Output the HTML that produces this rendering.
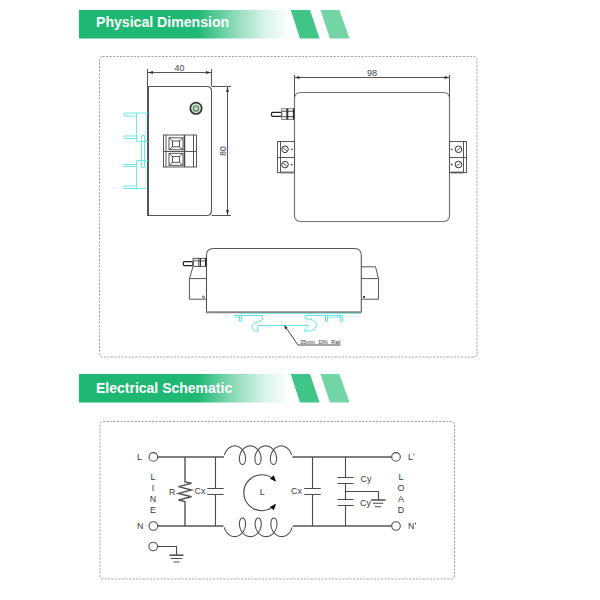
<!DOCTYPE html>
<html><head><meta charset="utf-8">
<style>
html,body{margin:0;padding:0;background:#fff;width:600px;height:600px;overflow:hidden}
svg{display:block;font-family:"Liberation Sans",sans-serif}
</style></head>
<body>
<svg width="600" height="600" viewBox="0 0 600 600">
<defs>
<linearGradient id="bg" x1="79" y1="0" x2="290" y2="0" gradientUnits="userSpaceOnUse">
<stop offset="0" stop-color="#1eb874"/>
<stop offset="0.56" stop-color="#1eb874"/>
<stop offset="0.74" stop-color="#1eb874" stop-opacity="0.5"/>
<stop offset="0.88" stop-color="#1eb874" stop-opacity="0.17"/>
<stop offset="1" stop-color="#1eb874" stop-opacity="0"/>
</linearGradient>
</defs>

<!-- ===== Banner 1 ===== -->
<rect x="79" y="10" width="211" height="28.5" fill="url(#bg)"/>
<polygon points="290.7,10 310,10 319.6,38.5 300,38.5" fill="#40c487"/>
<polygon points="320.4,10 339.3,10 349.6,38.5 330,38.5" fill="#73d4a5"/>
<text x="96" y="27.4" font-size="14.1" font-weight="bold" fill="#fff">Physical Dimension</text>

<!-- ===== Box 1 ===== -->
<rect x="99.5" y="56.5" width="377.5" height="300.5" rx="3" fill="none" stroke="#a3a3a3" stroke-width="1" stroke-dasharray="2.2 1.3"/>

<!-- side view -->
<g fill="none" stroke="#555" stroke-width="1">
  <!-- dim 40 -->
  <path d="M147.5,69 V86 M211.5,69 V86 M147.5,72.5 H211.5"/>
  <!-- box -->
  <path d="M147.5,86.5 H207 Q211.5,86.5 211.5,91 V210.5 Q211.5,215.5 206.5,215.5 H147.5" stroke="#555" stroke-width="1.1"/>
  <path d="M148,86 V216" stroke="#555" stroke-width="2"/>
  <path d="M211.5,86.5 H231 M211.5,215.5 H231"/>
  <path d="M227.5,87 V215"/>
</g>
<polygon points="227.5,87 226,92 229,92" fill="#333"/>
<polygon points="227.5,215 226,210 229,210" fill="#333"/>
<polygon points="148,72.5 153,71.1 153,73.9" fill="#333"/>
<polygon points="211,72.5 206,71.1 206,73.9" fill="#333"/>
<text x="179.5" y="70.8" font-size="8.8" text-anchor="middle" fill="#444">40</text>
<text transform="translate(226.3,151) rotate(-90)" font-size="8.5" text-anchor="middle" fill="#444">80</text>

<!-- LED -->
<circle cx="196" cy="108.3" r="5.7" fill="#d5e8d5" stroke="#303030" stroke-width="1.7"/>
<circle cx="196" cy="108.5" r="2.7" fill="#b9d2b9" stroke="#5c7d5e" stroke-width="1.1"/>

<!-- terminal block side -->
<g fill="none" stroke="#444" stroke-width="0.9">
  <rect x="163.5" y="135" width="33" height="32"/>
  <path d="M166,135 V167 M193.5,135 V167 M163.5,151.5 H196.5"/>
  <path d="M184.5,135 V167" stroke-width="1.5"/>
  <rect x="169" y="137.8" width="14" height="12"/>
  <rect x="172.5" y="141" width="7" height="5.8"/>
  <path d="M169,137.8 L172.5,141 M183,137.8 L179.5,141 M169,149.8 L172.5,146.8 M183,149.8 L179.5,146.8"/>
  <rect x="169" y="153.3" width="14" height="12"/>
  <rect x="172.5" y="156.5" width="7" height="5.8"/>
  <path d="M169,153.3 L172.5,156.5 M183,153.3 L179.5,156.5 M169,165.3 L172.5,162.3 M183,165.3 L179.5,162.3"/>
</g>

<!-- DIN clips side (cyan) -->
<g fill="none" stroke="#6ee8ea" stroke-width="1">
  <path d="M146,113 V141.5 M146,160.5 V188.5" stroke="#b5f3f3"/>
  <path d="M124,113 H148 M124,113 V116 H136.5 M136.5,113 V141.5 H148 M136.5,136 H124 V138.5 H136.5 M141.5,135.5 V167.5 H144.5 V135.5 Z"/>
  <path d="M136.5,160.5 H148 M136.5,164.5 H124 V166.5 H136.5 M136.5,160.5 V188.5 M124,186 V188.5 H146 M124,186 H136.5"/>
</g>

<!-- top view -->
<g fill="none" stroke="#555" stroke-width="1">
  <path d="M294.5,74.5 V99 M449.5,74.5 V99 M294.5,77.5 H449.5"/>
  <rect x="294.5" y="92.5" width="155" height="129" rx="5.5" stroke="#707070" stroke-width="1.15"/>
  <!-- connector -->
  <rect x="271.5" y="112.3" width="10.2" height="4" rx="1.3" stroke="#222" stroke-width="1.2"/>
  <rect x="281.7" y="108.7" width="12.8" height="10.8" stroke="#777" stroke-width="0.9"/>
  <path d="M281.7,111.2 H294.5 M281.7,116.7 H294.5" stroke="#444"/>
  <path d="M287.3,108.5 V119.5" stroke="#333" stroke-width="2"/>
  <path d="M293.6,108.5 V119.5" stroke="#222" stroke-width="1.4"/>
  <!-- left terminal -->
  <rect x="277.5" y="141.5" width="17" height="31" stroke="#555"/>
  <path d="M280.5,172.5 H294.5 M451,172.5 H463.5" stroke="#777" stroke-width="2"/>
  <path d="M280.5,141.5 V172.5 M277.5,157.5 H294.5" stroke="#555"/>
  <circle cx="285" cy="149.3" r="3.3" stroke="#333"/>
  <circle cx="285" cy="164.6" r="3.3" stroke="#333"/>
  <path d="M283,147.8 L287,150.8 M283,163.1 L287,166.1" stroke="#333" stroke-width="0.8"/>
  <!-- right terminal -->
  <rect x="449.5" y="141.5" width="17" height="31" stroke="#555"/>
  <path d="M463.5,141.5 V172.5 M449.5,157.5 H466.5" stroke="#555"/>
  <circle cx="458.5" cy="149.3" r="3.3" stroke="#333"/>
  <circle cx="458.5" cy="164.5" r="3.3" stroke="#333"/>
  <path d="M456.5,150.8 L460.5,147.8 M456.5,166 L460.5,163" stroke="#333" stroke-width="0.8"/>
</g>
<polygon points="294.5,77.5 299.5,76.1 299.5,78.9" fill="#333"/>
<polygon points="449.5,77.5 444.5,76.1 444.5,78.9" fill="#333"/>
<circle cx="291.8" cy="149.3" r="0.9" fill="#444"/>
<circle cx="291.8" cy="164.6" r="0.9" fill="#444"/>
<circle cx="451.8" cy="149.3" r="0.9" fill="#444"/>
<circle cx="451.8" cy="164.5" r="0.9" fill="#444"/>
<text x="372" y="76.3" font-size="9.2" text-anchor="middle" fill="#444">98</text>

<!-- front view -->
<g fill="none" stroke="#555" stroke-width="1">
  <path d="M206.5,312 V255.5 Q206.5,248.5 213.5,248.5 H354.3 Q361.3,248.5 361.3,255.5 V312" stroke="#555" stroke-width="1.1"/>
  <!-- connector -->
  <rect x="183.3" y="261.6" width="9.8" height="4" rx="1.3" stroke="#222" stroke-width="1.2"/>
  <rect x="193.1" y="258.4" width="13.4" height="8" stroke="#555" stroke-width="1"/>
  <path d="M193.1,260.9 H206.5" stroke="#555"/>
  <path d="M198.9,258 V266.5 M200.5,258 V266.5" stroke="#333" stroke-width="1"/>
  <path d="M205.7,258 V266.5" stroke="#222" stroke-width="1.4"/>
  <!-- left terminal -->
  <path d="M193.1,266.4 L189.4,278.6 V299.2 H206.5 M189.4,278.6 H206.5"/>
  <circle cx="203.5" cy="297" r="1" stroke="#444" stroke-width="0.8"/>
  <!-- right terminal -->
  <path d="M361.3,266.8 H375.5 L378.5,278.6 V299.2 H361.3 M361.3,278.6 H378.5"/>
</g>
<rect x="363" y="296" width="2" height="2" fill="#444"/>
<path d="M206,312.2 H361.5" stroke="#858585" stroke-width="2.1" fill="none"/>

<!-- DIN rail front (cyan) -->
<g fill="none" stroke="#62e4e6" stroke-width="1">
  <path d="M234,315.5 H262.7 M305,315.5 H342.7"/>
  <path d="M234,317.2 H241.5 M327.5,317.2 H342.7" stroke-width="0.8"/>
  <path d="M239.5,315.5 V321.3 H241.7 V315.5"/>
  <path d="M325.5,315.5 V321.3 H327.5 V315.5"/>
  <path d="M340.2,315.5 V321.5 Q341.5,323 342.7,321.5 V315.5"/>
  <path d="M262.7,315.5 V318.7 Q262.5,320.8 257.5,321.8 Q252,323.2 252,327 Q252.5,331.3 258,331.3 V325.5 H308.7 L304.2,331 H310 Q316.5,330 316.5,324.5 Q316.3,319.5 305,318.5 V315.5"/>
</g>
<path d="M239,313.4 H361" stroke="#6fe3e3" stroke-width="0.9" fill="none"/>
<path d="M284.5,325.5 L298,345 H340.5" stroke="#333" stroke-width="0.9" fill="none"/>
<polygon points="284.5,325.5 285.2,329.5 287.6,327.8" fill="#222"/>
<text x="300" y="344.4" font-size="5.4" fill="#333" word-spacing="2">35mm DIN Rail</text>

<!-- ===== Banner 2 ===== -->
<rect x="79" y="374" width="211" height="28.5" fill="url(#bg2)"/>
<defs>
<linearGradient id="bg2" x1="79" y1="0" x2="290" y2="0" gradientUnits="userSpaceOnUse">
<stop offset="0" stop-color="#1eb874"/>
<stop offset="0.56" stop-color="#1eb874"/>
<stop offset="0.74" stop-color="#1eb874" stop-opacity="0.5"/>
<stop offset="0.88" stop-color="#1eb874" stop-opacity="0.17"/>
<stop offset="1" stop-color="#1eb874" stop-opacity="0"/>
</linearGradient>
</defs>
<polygon points="290.7,374 310,374 319.6,402.5 300,402.5" fill="#40c487"/>
<polygon points="320.4,374 339.3,374 349.6,402.5 330,402.5" fill="#73d4a5"/>
<text x="96" y="392.8" font-size="14" font-weight="bold" fill="#fff">Electrical Schematic</text>

<!-- ===== Box 2 ===== -->
<rect x="100" y="421.5" width="354.5" height="157.5" rx="3" fill="none" stroke="#a3a3a3" stroke-width="1" stroke-dasharray="2.2 1.3"/>

<!-- schematic -->
<g fill="none" stroke="#505050" stroke-width="1.1">
  <circle cx="153.3" cy="456.9" r="4.3"/>
  <circle cx="153.3" cy="526" r="4.3"/>
  <circle cx="153.2" cy="546.5" r="4.3"/>
  <circle cx="396" cy="456.9" r="4.3"/>
  <circle cx="396" cy="526" r="4.3"/>
</g>
<g fill="none" stroke="#555" stroke-width="1.45">
  <path d="M157.6,457 H224 M292.5,457 H391.7"/>
  <path d="M157.6,526 H223.5 M292.7,526 H391.7"/>
  <!-- R -->
  <path d="M185,457 V482 L191.5,483.3 L178.5,486.6 L191.5,490 L178.5,493.4 L191.5,496.8 L178.5,500 L185,501.5 V526"/>
</g>
<g fill="none" stroke="#4a4a4a" stroke-width="1.1">
  <!-- Cx1 -->
  <path d="M215.5,457 V488.5 M215.5,494.5 V526 M207.3,488.5 H223.7 M207.3,494.5 H223.7"/>
  <!-- Cx2 -->
  <path d="M312.5,457 V488.5 M312.5,494.5 V526 M304.2,488.5 H320.8 M304.2,494.5 H320.8"/>
  <!-- Cy -->
  <path d="M345.5,457 V477.5 M345.5,483.5 V499.5 M345.5,505.5 V526 M337.4,477.5 H353.6 M337.4,483.5 H353.6 M337.4,499.5 H353.6 M337.4,505.5 H353.6"/>
  <path d="M345.5,491.5 H378.5 V500"/>
  <path d="M371.2,500 H385.5" stroke-width="1.5"/>
  <path d="M373,503.2 H383.2 M375,506.8 H381"/>
  <!-- ground left -->
  <path d="M157.5,546.5 H176.5 V555 M176.5,555"/>
  <path d="M169.5,555.2 H183.5" stroke-width="1.5"/>
  <path d="M171,558.5 H182 M173.5,562 H179.5"/>
</g>
<g fill="none" stroke="#505050" stroke-width="1.1">
  <!-- coils -->
  <path d="M224.38,455.20 L224.52,454.69 L224.69,454.18 L224.87,453.67 L225.07,453.17 L225.30,452.68 L225.54,452.19 L225.80,451.71 L226.08,451.24 L226.38,450.78 L226.69,450.34 L227.02,449.91 L227.37,449.50 L227.73,449.10 L228.11,448.73 L228.50,448.37 L228.90,448.03 L229.32,447.72 L229.75,447.43 L230.19,447.16 L230.64,446.91 L231.09,446.69 L231.56,446.50 L232.03,446.33 L232.51,446.19 L233.00,446.08 L233.49,445.99 L233.98,445.93 L234.47,445.90 L234.96,445.90 L235.45,445.93 L235.94,445.98 L236.43,446.06 L236.92,446.17 L237.40,446.31 L237.87,446.47 L238.34,446.66 L238.80,446.88 L239.25,447.12 L239.69,447.39 L240.12,447.68 L240.54,447.99 L240.95,448.32 L241.34,448.68 L241.72,449.05 L242.08,449.44 L242.43,449.85 L242.76,450.28 L243.08,450.72 L243.38,451.17 L243.66,451.64 L243.92,452.12 L244.17,452.61 L244.40,453.10 L244.60,453.60 L244.79,454.11 L244.96,454.62 L245.11,455.13 L245.23,455.64 L245.34,456.15 L245.43,456.65 L245.50,457.16 L245.55,457.65 L245.59,458.14 L245.60,458.62 L245.59,459.09 L245.57,459.55 L245.53,460.00 L245.47,460.43 L245.40,460.84 L245.31,461.24 L245.21,461.62 L245.09,461.98 L244.96,462.32 L244.81,462.64 L244.66,462.93 L244.49,463.20 L244.31,463.45 L244.13,463.68 L243.93,463.87 L243.73,464.04 L243.53,464.19 L243.31,464.31 L243.10,464.40 L242.88,464.46 L242.66,464.49 L242.44,464.50 L242.22,464.48 L242.00,464.43 L241.78,464.35 L241.56,464.24 L241.35,464.11 L241.15,463.95 L240.95,463.76 L240.76,463.55 L240.58,463.31 L240.41,463.05 L240.25,462.77 L240.10,462.46 L239.97,462.13 L239.84,461.78 L239.73,461.40 L239.64,461.01 L239.56,460.61 L239.49,460.18 L239.44,459.74 L239.41,459.29 L239.40,458.83 L239.41,458.35 L239.43,457.86 L239.47,457.37 L239.54,456.87 L239.62,456.37 L239.72,455.86 L239.84,455.35 L239.98,454.83 L240.14,454.32 L240.32,453.82 L240.51,453.31 L240.73,452.82 L240.97,452.33 L241.22,451.84 L241.50,451.37 L241.79,450.91 L242.10,450.47 L242.42,450.03 L242.77,449.62 L243.12,449.22 L243.50,448.83 L243.88,448.47 L244.28,448.13 L244.70,447.81 L245.12,447.51 L245.56,447.23 L246.01,446.98 L246.46,446.75 L246.93,446.55 L247.40,446.38 L247.88,446.23 L248.36,446.11 L248.85,446.01 L249.34,445.95 L249.83,445.91 L250.32,445.90 L250.81,445.92 L251.30,445.96 L251.79,446.04 L252.28,446.14 L252.76,446.27 L253.24,446.43 L253.71,446.61 L254.17,446.82 L254.62,447.05 L255.07,447.31 L255.50,447.59 L255.92,447.90 L256.33,448.22 L256.73,448.57 L257.11,448.94 L257.48,449.33 L257.83,449.73 L258.17,450.16 L258.49,450.59 L258.80,451.04 L259.08,451.51 L259.35,451.98 L259.60,452.47 L259.83,452.96 L260.04,453.46 L260.24,453.96 L260.41,454.47 L260.57,454.98 L260.70,455.49 L260.81,456.00 L260.91,456.51 L260.98,457.01 L261.04,457.51 L261.08,458.00 L261.10,458.49 L261.10,458.96 L261.08,459.42 L261.04,459.87 L260.99,460.31 L260.92,460.73 L260.84,461.13 L260.74,461.51 L260.62,461.88 L260.50,462.22 L260.36,462.55 L260.20,462.85 L260.04,463.13 L259.87,463.38 L259.68,463.61 L259.49,463.82 L259.29,464.00 L259.09,464.15 L258.88,464.28 L258.66,464.37 L258.44,464.44 L258.22,464.49 L258.00,464.50 L257.78,464.49 L257.56,464.44 L257.34,464.37 L257.12,464.28 L256.91,464.15 L256.71,464.00 L256.51,463.82 L256.32,463.61 L256.13,463.38 L255.96,463.13 L255.80,462.85 L255.64,462.55 L255.50,462.22 L255.38,461.88 L255.26,461.51 L255.16,461.13 L255.08,460.73 L255.01,460.31 L254.96,459.87 L254.92,459.42 L254.90,458.96 L254.90,458.49 L254.92,458.00 L254.96,457.51 L255.02,457.01 L255.09,456.51 L255.19,456.00 L255.30,455.49 L255.43,454.98 L255.59,454.47 L255.76,453.96 L255.96,453.46 L256.17,452.96 L256.40,452.47 L256.65,451.98 L256.92,451.51 L257.20,451.04 L257.51,450.59 L257.83,450.16 L258.17,449.73 L258.52,449.33 L258.89,448.94 L259.27,448.57 L259.67,448.22 L260.08,447.90 L260.50,447.59 L260.93,447.31 L261.38,447.05 L261.83,446.82 L262.29,446.61 L262.76,446.43 L263.24,446.27 L263.72,446.14 L264.21,446.04 L264.70,445.96 L265.19,445.92 L265.68,445.90 L266.17,445.91 L266.66,445.95 L267.15,446.01 L267.64,446.11 L268.12,446.23 L268.60,446.38 L269.07,446.55 L269.54,446.75 L269.99,446.98 L270.44,447.23 L270.88,447.51 L271.30,447.81 L271.72,448.13 L272.12,448.47 L272.50,448.83 L272.88,449.22 L273.23,449.62 L273.58,450.03 L273.90,450.47 L274.21,450.91 L274.50,451.37 L274.78,451.84 L275.03,452.33 L275.27,452.82 L275.49,453.31 L275.68,453.82 L275.86,454.32 L276.02,454.83 L276.16,455.35 L276.28,455.86 L276.38,456.37 L276.46,456.87 L276.53,457.37 L276.57,457.86 L276.59,458.35 L276.60,458.83 L276.59,459.29 L276.56,459.74 L276.51,460.18 L276.44,460.61 L276.36,461.01 L276.27,461.40 L276.16,461.78 L276.03,462.13 L275.90,462.46 L275.75,462.77 L275.59,463.05 L275.42,463.31 L275.24,463.55 L275.05,463.76 L274.85,463.95 L274.65,464.11 L274.44,464.24 L274.22,464.35 L274.00,464.43 L273.78,464.48 L273.56,464.50 L273.34,464.49 L273.12,464.46 L272.90,464.40 L272.69,464.31 L272.47,464.19 L272.27,464.04 L272.07,463.87 L271.87,463.68 L271.69,463.45 L271.51,463.20 L271.34,462.93 L271.19,462.64 L271.04,462.32 L270.91,461.98 L270.79,461.62 L270.69,461.24 L270.60,460.84 L270.53,460.43 L270.47,460.00 L270.43,459.55 L270.41,459.09 L270.40,458.62 L270.41,458.14 L270.45,457.65 L270.50,457.16 L270.57,456.65 L270.66,456.15 L270.77,455.64 L270.89,455.13 L271.04,454.62 L271.21,454.11 L271.40,453.60 L271.60,453.10 L271.83,452.61 L272.08,452.12 L272.34,451.64 L272.62,451.17 L272.92,450.72 L273.24,450.28 L273.57,449.85 L273.92,449.44 L274.28,449.05 L274.66,448.68 L275.05,448.32 L275.46,447.99 L275.88,447.68 L276.31,447.39 L276.75,447.12 L277.20,446.88 L277.66,446.66 L278.13,446.47 L278.60,446.31 L279.08,446.17 L279.57,446.06 L280.06,445.98 L280.55,445.93 L281.04,445.90 L281.53,445.90 L282.02,445.93 L282.51,445.99 L283.00,446.08 L283.49,446.19 L283.97,446.33 L284.44,446.50 L284.91,446.69 L285.36,446.91 L285.81,447.16 L286.25,447.43 L286.68,447.72 L287.10,448.03 L287.50,448.37 L287.89,448.73 L288.27,449.10 L288.63,449.50 L288.98,449.91 L289.31,450.34 L289.62,450.78 L289.92,451.24 L290.20,451.71 L290.46,452.19 L290.70,452.68 L290.93,453.17 L291.13,453.67 L291.31,454.18 L291.48,454.69 L291.62,455.20"/>
  <path d="M224.22,527.30 L224.37,527.81 L224.54,528.32 L224.73,528.83 L224.93,529.33 L225.16,529.82 L225.40,530.31 L225.66,530.79 L225.94,531.26 L226.24,531.72 L226.56,532.16 L226.89,532.59 L227.24,533.00 L227.60,533.40 L227.98,533.77 L228.37,534.13 L228.78,534.47 L229.20,534.78 L229.63,535.07 L230.07,535.34 L230.52,535.59 L230.98,535.81 L231.45,536.00 L231.92,536.17 L232.41,536.31 L232.89,536.42 L233.38,536.51 L233.87,536.57 L234.37,536.60 L234.86,536.60 L235.36,536.57 L235.85,536.52 L236.34,536.44 L236.83,536.33 L237.31,536.19 L237.78,536.03 L238.25,535.84 L238.71,535.62 L239.17,535.38 L239.61,535.11 L240.04,534.82 L240.46,534.51 L240.87,534.18 L241.26,533.82 L241.65,533.45 L242.01,533.06 L242.36,532.65 L242.70,532.22 L243.01,531.78 L243.32,531.33 L243.60,530.86 L243.86,530.38 L244.11,529.89 L244.34,529.40 L244.55,528.90 L244.74,528.39 L244.91,527.88 L245.06,527.37 L245.19,526.86 L245.30,526.35 L245.39,525.85 L245.46,525.34 L245.51,524.85 L245.55,524.36 L245.56,523.88 L245.56,523.41 L245.54,522.95 L245.50,522.50 L245.44,522.07 L245.37,521.66 L245.28,521.26 L245.18,520.88 L245.07,520.52 L244.94,520.18 L244.79,519.86 L244.64,519.57 L244.47,519.30 L244.30,519.05 L244.12,518.82 L243.92,518.63 L243.72,518.46 L243.52,518.31 L243.31,518.19 L243.09,518.10 L242.88,518.04 L242.66,518.01 L242.44,518.00 L242.22,518.02 L242.00,518.07 L241.78,518.15 L241.57,518.26 L241.36,518.39 L241.16,518.55 L240.97,518.74 L240.78,518.95 L240.60,519.19 L240.43,519.45 L240.27,519.73 L240.12,520.04 L239.99,520.37 L239.87,520.72 L239.76,521.10 L239.66,521.49 L239.59,521.89 L239.52,522.32 L239.48,522.76 L239.45,523.21 L239.44,523.67 L239.45,524.15 L239.47,524.64 L239.52,525.13 L239.58,525.63 L239.66,526.13 L239.76,526.64 L239.89,527.15 L240.03,527.67 L240.19,528.18 L240.37,528.68 L240.57,529.19 L240.79,529.68 L241.03,530.17 L241.29,530.66 L241.56,531.13 L241.85,531.59 L242.16,532.03 L242.49,532.47 L242.84,532.88 L243.20,533.28 L243.57,533.67 L243.96,534.03 L244.36,534.37 L244.78,534.69 L245.20,534.99 L245.64,535.27 L246.09,535.52 L246.55,535.75 L247.02,535.95 L247.49,536.12 L247.97,536.27 L248.45,536.39 L248.94,536.49 L249.43,536.55 L249.93,536.59 L250.42,536.60 L250.92,536.58 L251.41,536.54 L251.90,536.46 L252.39,536.36 L252.87,536.23 L253.35,536.07 L253.82,535.89 L254.28,535.68 L254.74,535.45 L255.18,535.19 L255.62,534.91 L256.04,534.60 L256.45,534.28 L256.85,533.93 L257.24,533.56 L257.61,533.17 L257.96,532.77 L258.30,532.34 L258.63,531.91 L258.93,531.46 L259.22,530.99 L259.49,530.52 L259.74,530.03 L259.97,529.54 L260.19,529.04 L260.38,528.54 L260.56,528.03 L260.71,527.52 L260.85,527.01 L260.97,526.50 L261.06,525.99 L261.14,525.49 L261.20,524.99 L261.24,524.50 L261.26,524.01 L261.26,523.54 L261.24,523.08 L261.21,522.63 L261.16,522.19 L261.09,521.77 L261.01,521.37 L260.91,520.99 L260.80,520.62 L260.67,520.28 L260.54,519.95 L260.38,519.65 L260.22,519.37 L260.05,519.12 L259.87,518.89 L259.68,518.68 L259.48,518.50 L259.28,518.35 L259.07,518.22 L258.86,518.13 L258.64,518.06 L258.42,518.01 L258.20,518.00 L257.98,518.01 L257.76,518.06 L257.54,518.13 L257.33,518.22 L257.12,518.35 L256.92,518.50 L256.72,518.68 L256.53,518.89 L256.35,519.12 L256.18,519.37 L256.02,519.65 L255.86,519.95 L255.73,520.28 L255.60,520.62 L255.49,520.99 L255.39,521.37 L255.31,521.77 L255.24,522.19 L255.19,522.63 L255.16,523.08 L255.14,523.54 L255.14,524.01 L255.16,524.50 L255.20,524.99 L255.26,525.49 L255.34,525.99 L255.43,526.50 L255.55,527.01 L255.69,527.52 L255.84,528.03 L256.02,528.54 L256.21,529.04 L256.43,529.54 L256.66,530.03 L256.91,530.52 L257.18,530.99 L257.47,531.46 L257.77,531.91 L258.10,532.34 L258.44,532.77 L258.79,533.17 L259.16,533.56 L259.55,533.93 L259.95,534.28 L260.36,534.60 L260.78,534.91 L261.22,535.19 L261.66,535.45 L262.12,535.68 L262.58,535.89 L263.05,536.07 L263.53,536.23 L264.01,536.36 L264.50,536.46 L264.99,536.54 L265.48,536.58 L265.98,536.60 L266.47,536.59 L266.97,536.55 L267.46,536.49 L267.95,536.39 L268.43,536.27 L268.91,536.12 L269.38,535.95 L269.85,535.75 L270.31,535.52 L270.76,535.27 L271.20,534.99 L271.62,534.69 L272.04,534.37 L272.44,534.03 L272.83,533.67 L273.20,533.28 L273.56,532.88 L273.91,532.47 L274.24,532.03 L274.55,531.59 L274.84,531.13 L275.11,530.66 L275.37,530.17 L275.61,529.68 L275.83,529.19 L276.03,528.68 L276.21,528.18 L276.37,527.67 L276.51,527.15 L276.64,526.64 L276.74,526.13 L276.82,525.63 L276.88,525.13 L276.93,524.64 L276.95,524.15 L276.96,523.67 L276.95,523.21 L276.92,522.76 L276.88,522.32 L276.81,521.89 L276.74,521.49 L276.64,521.10 L276.53,520.72 L276.41,520.37 L276.28,520.04 L276.13,519.73 L275.97,519.45 L275.80,519.19 L275.62,518.95 L275.43,518.74 L275.24,518.55 L275.04,518.39 L274.83,518.26 L274.62,518.15 L274.40,518.07 L274.18,518.02 L273.96,518.00 L273.74,518.01 L273.52,518.04 L273.31,518.10 L273.09,518.19 L272.88,518.31 L272.68,518.46 L272.48,518.63 L272.28,518.82 L272.10,519.05 L271.93,519.30 L271.76,519.57 L271.61,519.86 L271.46,520.18 L271.33,520.52 L271.22,520.88 L271.12,521.26 L271.03,521.66 L270.96,522.07 L270.90,522.50 L270.86,522.95 L270.84,523.41 L270.84,523.88 L270.85,524.36 L270.89,524.85 L270.94,525.34 L271.01,525.85 L271.10,526.35 L271.21,526.86 L271.34,527.37 L271.49,527.88 L271.66,528.39 L271.85,528.90 L272.06,529.40 L272.29,529.89 L272.54,530.38 L272.80,530.86 L273.08,531.33 L273.39,531.78 L273.70,532.22 L274.04,532.65 L274.39,533.06 L274.75,533.45 L275.14,533.82 L275.53,534.18 L275.94,534.51 L276.36,534.82 L276.79,535.11 L277.23,535.38 L277.69,535.62 L278.15,535.84 L278.62,536.03 L279.09,536.19 L279.57,536.33 L280.06,536.44 L280.55,536.52 L281.04,536.57 L281.54,536.60 L282.03,536.60 L282.53,536.57 L283.02,536.51 L283.51,536.42 L283.99,536.31 L284.48,536.17 L284.95,536.00 L285.42,535.81 L285.88,535.59 L286.33,535.34 L286.77,535.07 L287.20,534.78 L287.62,534.47 L288.03,534.13 L288.42,533.77 L288.80,533.40 L289.16,533.00 L289.51,532.59 L289.84,532.16 L290.16,531.72 L290.46,531.26 L290.74,530.79 L291.00,530.31 L291.24,529.82 L291.47,529.33 L291.67,528.83 L291.86,528.32 L292.03,527.81 L292.18,527.30"/>
  <!-- rotation arrow -->
  <path d="M275.18,480.66 A18.0,18.0 0 1 0 275.18,504.74" stroke="#444"/>
</g>
<polygon points="276.18,481.77 269.90,478.68 273.76,475.20" fill="#111"/>
<polygon points="276.18,503.63 273.76,510.20 269.90,506.72" fill="#111"/>

<g font-size="8.9" fill="#383838">
  <text x="137" y="460">L</text>
  <text x="137" y="529">N</text>
  <text x="153" y="480" text-anchor="middle">L</text>
  <text x="153" y="491" text-anchor="middle">I</text>
  <text x="153" y="502" text-anchor="middle">N</text>
  <text x="153" y="512.5" text-anchor="middle">E</text>
  <text x="169" y="494.5">R</text>
  <text x="194.5" y="494">Cx</text>
  <text x="291" y="494">Cx</text>
  <text x="360.5" y="482">Cy</text>
  <text x="360" y="506">Cy</text>
  <text x="259.8" y="494.7">L</text>
  <text x="408" y="459.5">L</text>
  <text x="408" y="528.5">N</text>
  <text x="401" y="479.5" text-anchor="middle">L</text>
  <text x="401" y="491" text-anchor="middle">O</text>
  <text x="401" y="502" text-anchor="middle">A</text>
  <text x="401" y="512.5" text-anchor="middle">D</text>
</g>
<rect x="413.5" y="453.5" width="0.9" height="2" fill="#555"/>
<rect x="415" y="522.5" width="0.9" height="2" fill="#555"/>

</svg>
</body></html>
